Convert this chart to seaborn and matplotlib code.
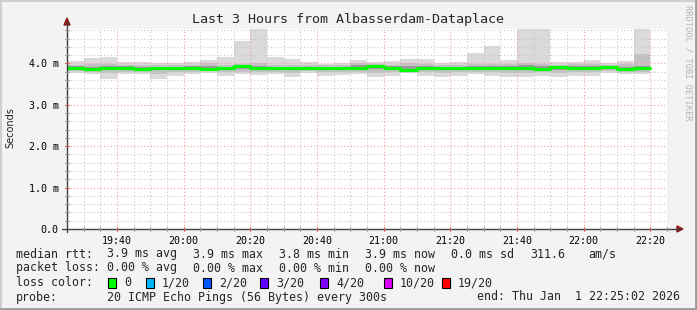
import numpy as np
import pandas as pd
import matplotlib
matplotlib.use("Agg")
import matplotlib.pyplot as plt
from matplotlib.patches import Rectangle, Polygon
from matplotlib.lines import Line2D
import seaborn as sns

# ---------------- data (ms) ----------------
median = [3.89, 3.86, 3.89, 3.89, 3.87, 3.88, 3.89, 3.89, 3.87, 3.88, 3.93, 3.88,
          3.88, 3.88, 3.88, 3.88, 3.88, 3.90, 3.93, 3.89, 3.85, 3.89, 3.89, 3.88,
          3.88, 3.89, 3.89, 3.89, 3.87, 3.91, 3.89, 3.89, 3.92, 3.86, 3.89]
smoke_max = [4.06, 4.13, 4.16, 4.03, 4.03, 4.00, 4.00, 4.04, 4.09, 4.16, 4.55, 5.50,
             4.16, 4.11, 4.04, 3.99, 4.01, 4.09, 4.03, 4.07, 4.11, 4.10, 4.02, 4.03,
             4.24, 4.41, 4.08, 5.50, 5.50, 4.03, 4.04, 4.09, 4.01, 4.07, 5.50]
smoke_min = [3.78, 3.74, 3.62, 3.74, 3.74, 3.62, 3.70, 3.74, 3.76, 3.70, 3.74, 3.73,
             3.74, 3.66, 3.78, 3.70, 3.73, 3.74, 3.66, 3.70, 3.78, 3.70, 3.66, 3.70,
             3.74, 3.70, 3.66, 3.66, 3.70, 3.66, 3.70, 3.70, 3.78, 3.74, 3.74]
mid_hi = [3.97, 3.99, 3.98, 3.97, 3.96, 3.96, 3.96, 3.97, 4.00, 3.97, 3.99, 4.00,
          3.97, 3.97, 3.96, 3.95, 3.96, 4.02, 3.99, 3.97, 4.02, 3.98, 3.97, 3.97,
          3.98, 3.99, 3.98, 4.01, 3.99, 3.97, 3.98, 3.98, 3.96, 3.98, 4.23]
mid_lo = [3.82, 3.79, 3.76, 3.80, 3.80, 3.75, 3.80, 3.80, 3.81, 3.79, 3.80, 3.80,
          3.80, 3.78, 3.82, 3.79, 3.80, 3.80, 3.77, 3.80, 3.82, 3.79, 3.78, 3.80,
          3.80, 3.79, 3.78, 3.77, 3.79, 3.78, 3.79, 3.79, 3.82, 3.80, 3.80]
inner_hi = [3.93, 3.92, 3.93, 3.93, 3.92, 3.92, 3.92, 3.93, 3.94, 3.92, 3.96, 3.93,
            3.92, 3.92, 3.92, 3.91, 3.92, 3.95, 3.96, 3.93, 3.93, 3.93, 3.92, 3.92,
            3.93, 3.93, 3.93, 3.95, 3.93, 3.94, 3.93, 3.93, 3.94, 3.92, 3.94]
inner_lo = [3.85, 3.83, 3.84, 3.85, 3.84, 3.83, 3.85, 3.85, 3.84, 3.84, 3.87, 3.84,
            3.85, 3.84, 3.85, 3.84, 3.85, 3.86, 3.86, 3.85, 3.83, 3.84, 3.84, 3.85,
            3.85, 3.85, 3.84, 3.84, 3.83, 3.85, 3.85, 3.85, 3.87, 3.83, 3.85]

start_min = 19 * 60 + 25          # first 5-minute bin 19:25
step_min = 5
xtick_labels = ["19:40", "20:00", "20:20", "20:40", "21:00", "21:20", "21:40", "22:00", "22:20"]
ytick_vals = [0, 1, 2, 3, 4]
ytick_labels = ["0.0", "1.0 m", "2.0 m", "3.0 m", "4.0 m"]

loss_labels = ["0", "1/20", "2/20", "3/20", "4/20", "10/20", "19/20"]
loss_colors = ["#00ff00", "#00b8ff", "#0059ff", "#5e00ff", "#7e00ff", "#dd00ff", "#ff0000"]

title = "Last 3 Hours from Albasserdam-Dataplace"

# ---------------- figure ----------------
W, H = 697, 310
sns.set_style("white")
plt.rcParams["font.family"] = ["DejaVu Sans Mono", "DejaVu Sans"]
fig = plt.figure(figsize=(W / 100, H / 100), dpi=100, facecolor="#f3f3f3")

L, R, T, B = 67, 667, 29, 229
ax = fig.add_axes([L / W, 1 - B / H, (R - L) / W, (B - T) / H])
ax.set_facecolor("white")
for s in ax.spines.values():
    s.set_visible(False)

n = len(median)
lefts = [start_min + step_min * i for i in range(n)]
df = pd.DataFrame({"t": lefts, "median": median, "smin": smoke_min, "smax": smoke_max,
                   "mlo": mid_lo, "mhi": mid_hi, "ilo": inner_lo, "ihi": inner_hi})

x0 = start_min + 2 / 60
ax.set_xlim(x0, x0 + 180)
ax.set_ylim(0, 200 / 41.4)

# smoke
ax.bar(df["t"], df["smax"] - df["smin"], bottom=df["smin"], width=step_min, align="edge",
       color="#dadada", linewidth=0, zorder=1)
ax.bar(df["t"], df["mhi"] - df["mlo"], bottom=df["mlo"], width=step_min, align="edge",
       color="#c2c2c2", linewidth=0, zorder=1.1)
ax.bar(df["t"], df["ihi"] - df["ilo"], bottom=df["ilo"], width=step_min, align="edge",
       color="#9a9a9a", linewidth=0, zorder=1.2)

# grid
minor_x = np.arange(start_min + 5, x0 + 181, 5)
major_x = [19 * 60 + 40 + 20 * k for k in range(9)]
for xv in minor_x:
    if xv not in major_x:
        ax.axvline(xv, color="#c8c8c8", lw=0.8, ls=(0, (1, 2)), zorder=2)
for xv in major_x:
    ax.axvline(xv, color="#f0a0a0", lw=0.8, ls=(0, (1, 2)), zorder=2.1)
for yv in np.arange(0.2, 4.85, 0.2):
    if abs(yv - round(yv)) > 1e-6:
        ax.axhline(yv, color="#c8c8c8", lw=0.8, ls=(0, (1, 2)), zorder=2)
for yv in ytick_vals[1:]:
    ax.axhline(yv, color="#f0a0a0", lw=0.8, ls=(0, (1, 2)), zorder=2.1)

# median line
med_df = pd.DataFrame({"t": lefts + [lefts[-1] + step_min], "median": median + [median[-1]]})
sns.lineplot(data=med_df, x="t", y="median", ax=ax, drawstyle="steps-post",
             color="#00ff00", linewidth=2.3, estimator=None, zorder=3)

ax.set_xlabel("")
ax.set_ylabel("")
ax.set_xticks(major_x)
ax.set_xticklabels(xtick_labels)
ax.set_yticks(ytick_vals)
ax.set_yticklabels(ytick_labels)
ax.tick_params(axis="x", length=0, pad=5, labelsize=7.2, colors="black")
ax.tick_params(axis="y", length=0, pad=6, labelsize=7.2, colors="black")
ax.grid(False)

# axes lines with arrows
def px(x, y):
    return (x / W, 1 - y / H)

fig.add_artist(Line2D([62 / W, 680 / W], [1 - 229 / H] * 2, color="#404040", lw=1))
fig.add_artist(Line2D([67 / W] * 2, [1 - 232 / H, 1 - 22 / H], color="#404040", lw=1))
fig.add_artist(Polygon([px(677, 226), px(683, 229), px(677, 232)], closed=True,
                       color="#8b1a1a", transform=fig.transFigure))
fig.add_artist(Polygon([px(64, 25), px(67, 18), px(70, 25)], closed=True,
                       color="#8b1a1a", transform=fig.transFigure))
# small ticks on axes
for xv in minor_x:
    xp = L + (xv - x0) / 180 * 600
    c = "#e06060" if xv in major_x else "#999999"
    fig.add_artist(Line2D([xp / W] * 2, [1 - 227 / H, 1 - 231 / H], color=c, lw=0.8))
for yv in np.arange(0.2, 4.85, 0.2):
    yp = B - yv * 41.4
    c = "#e06060" if abs(yv - round(yv)) < 1e-6 else "#999999"
    fig.add_artist(Line2D([65 / W, 69 / W], [1 - yp / H] * 2, color=c, lw=0.8))

# texts
fig.text(348.5 / W, 1 - 19 / H, title, ha="center", va="center", fontsize=9.6,
         family="DejaVu Sans Mono")
fig.text(10 / W, 1 - 128 / H, "Seconds", rotation=90, ha="center", va="center",
         fontsize=7, family="DejaVu Sans")
fig.text(688 / W, 1 - 5 / H, "RRDTOOL / TOBI OETIKER", rotation=270, ha="center", va="top",
         fontsize=6.2, color="#b4b4b4", family="DejaVu Sans Mono")

fs = 8.4
def t(x, y, s, **kw):
    fig.text(x / W, 1 - y / H, s, ha=kw.pop("ha", "left"), va="center", fontsize=fs,
             family="DejaVu Sans Mono", **kw)

t(16, 254, "median rtt:")
for xx, s in zip([107, 193, 279, 365, 451, 530, 588],
                 ["3.9 ms avg", "3.9 ms max", "3.8 ms min", "3.9 ms now", "0.0 ms sd", "311.6", "am/s"]):
    t(xx, 254, s)
t(16, 268, "packet loss:")
for xx, s in zip([107, 193, 279, 365], ["0.00 % avg", "0.00 % max", "0.00 % min", "0.00 % now"]):
    t(xx, 268, s)
t(16, 283, "loss color:")
sw_x = [108, 146, 203, 260, 320, 384, 442]
for xx, lab, col in zip(sw_x, loss_labels, loss_colors):
    fig.add_artist(Rectangle(((xx) / W, 1 - 288 / H), 8 / W, 10 / H, facecolor=col,
                             edgecolor="black", lw=0.8, transform=fig.transFigure))
    t(xx + 16, 283, lab)
t(16, 297, "probe:")
t(107, 297, "20 ICMP Echo Pings (56 Bytes) every 300s")
t(680, 297, "end: Thu Jan  1 22:25:02 2026", ha="right")

# frame
fig.add_artist(Line2D([0, 1], [1 - 0.5 / H] * 2, color="#cfcfcf", lw=1.5))
fig.add_artist(Line2D([0.5 / W] * 2, [0, 1], color="#cfcfcf", lw=1.5))
fig.add_artist(Line2D([0, 1], [0.8 / H] * 2, color="#9a9a9a", lw=2))
fig.add_artist(Line2D([1 - 0.8 / W] * 2, [0, 1], color="#9a9a9a", lw=2))

fig.savefig("out.png", dpi=100, facecolor=fig.get_facecolor())
